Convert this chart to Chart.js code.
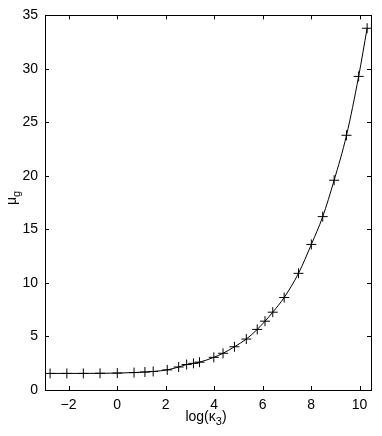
<!DOCTYPE html>
<html>
<head>
<meta charset="utf-8">
<script src="https://cdn.jsdelivr.net/npm/chart.js@4/dist/chart.umd.min.js"></script>
<style>
  html, body { margin: 0; padding: 0; background: #fff; }
  #wrap { width: 382px; height: 436px; }
</style>
</head>
<body>
<div id="wrap"><canvas id="c" width="382" height="436"></canvas></div>
<script>
// log(kappa_3) values
const logK3 = [-2.76, -2.07, -1.39, -0.70, 0.01, 0.70, 1.15, 1.49, 2.07, 2.54, 2.87, 3.15, 3.40, 3.99, 4.37, 4.84, 5.33, 5.78, 6.10, 6.42, 6.89, 7.48, 8.01, 8.48, 8.95, 9.46, 9.96, 10.31];
// mu_g values
const muG = [1.55, 1.55, 1.55, 1.56, 1.58, 1.63, 1.68, 1.73, 1.88, 2.15, 2.38, 2.49, 2.60, 3.05, 3.43, 4.04, 4.76, 5.66, 6.43, 7.27, 8.64, 10.9, 13.6, 16.2, 19.6, 23.8, 29.3, 33.8];
const xTicks = [-2, 0, 2, 4, 6, 8, 10];
const yTicks = [0, 5, 10, 15, 20, 25, 30, 35];
const xTitle = { main: 'log(κ', sub: '3', tail: ')' };
const yTitle = { main: 'μ', sub: 'g' };

const FONT = '"Liberation Sans", Arial, Helvetica, sans-serif';

const boxPlugin = {
  id: 'box',
  afterDraw(chart) {
    const ctx = chart.ctx;
    const a = chart.chartArea;
    const xs = chart.scales.x, ys = chart.scales.y;
    ctx.save();
    ctx.strokeStyle = '#000';
    ctx.lineWidth = 1;
    ctx.strokeRect(Math.round(a.left) + 0.5, Math.round(a.top) + 0.5, Math.round(a.right - a.left), Math.round(a.bottom - a.top));
    const tl = 4;
    ctx.beginPath();
    xTicks.forEach(v => {
      const px = Math.round(xs.getPixelForValue(v)) + 0.5;
      ctx.moveTo(px, a.bottom); ctx.lineTo(px, a.bottom - tl);
      ctx.moveTo(px, a.top); ctx.lineTo(px, a.top + tl);
    });
    yTicks.forEach(v => {
      const py = Math.round(ys.getPixelForValue(v)) + 0.5;
      ctx.moveTo(a.left, py); ctx.lineTo(a.left + tl, py);
      ctx.moveTo(a.right, py); ctx.lineTo(a.right - tl, py);
    });
    ctx.stroke();

    // axis titles
    ctx.fillStyle = '#000';
    ctx.textBaseline = 'alphabetic';
    ctx.textAlign = 'left';
    const big = '14px ' + FONT, small = '11px ' + FONT;
    ctx.font = big;
    const w1 = ctx.measureText(xTitle.main).width;
    const w3 = ctx.measureText(xTitle.tail).width;
    ctx.font = small;
    const w2 = ctx.measureText(xTitle.sub).width;
    const cx = (a.left + a.right) / 2 - 2;
    let x0 = cx - (w1 + w2 + w3) / 2;
    const by = 421;
    ctx.font = big; ctx.fillText(xTitle.main, x0, by);
    ctx.font = small; ctx.fillText(xTitle.sub, x0 + w1, by + 4);
    ctx.font = big; ctx.fillText(xTitle.tail, x0 + w1 + w2, by);

    ctx.translate(16, 198);
    ctx.rotate(-Math.PI / 2);
    ctx.font = big;
    const m1 = ctx.measureText(yTitle.main).width;
    ctx.font = small;
    const m2 = ctx.measureText(yTitle.sub).width;
    const sx = -(m1 + m2) / 2;
    ctx.font = big; ctx.fillText(yTitle.main, sx, 0);
    ctx.font = small; ctx.fillText(yTitle.sub, sx + m1, 4);
    ctx.restore();
  }
};

new Chart(document.getElementById('c'), {
  type: 'line',
  data: {
    datasets: [{
      data: logK3.map((x, i) => ({ x: x, y: muG[i] })),
      borderColor: '#000',
      borderWidth: 1,
      cubicInterpolationMode: 'monotone',
      pointStyle: 'cross',
      pointRadius: 5,
      pointBorderColor: '#000',
      pointBorderWidth: 1,
      pointBackgroundColor: '#000',
      fill: false
    }]
  },
  options: {
    responsive: false,
    animation: false,
    events: [],
    layout: { padding: { top: 15, right: 11, left: 0, bottom: 0 } },
    plugins: { legend: { display: false }, tooltip: { enabled: false } },
    scales: {
      x: {
        type: 'linear',
        min: -2.97,
        max: 10.47,
        afterBuildTicks: s => { s.ticks = xTicks.map(v => ({ value: v })); },
        afterFit: s => { s.height = 46; },
        grid: { display: false, drawTicks: false },
        border: { display: false },
        ticks: { color: '#000', font: { family: FONT, size: 14 }, padding: 7, maxRotation: 0,
          callback: v => (v < 0 ? '\u2212' + Math.abs(v) : String(v)) }
      },
      y: {
        type: 'linear',
        min: 0,
        max: 35,
        afterBuildTicks: s => { s.ticks = yTicks.map(v => ({ value: v })); },
        afterFit: s => { s.width = 45; },
        grid: { display: false, drawTicks: false },
        border: { display: false },
        ticks: { color: '#000', font: { family: FONT, size: 14 }, padding: 7 }
      }
    }
  },
  plugins: [boxPlugin]
});
</script>
</body>
</html>
